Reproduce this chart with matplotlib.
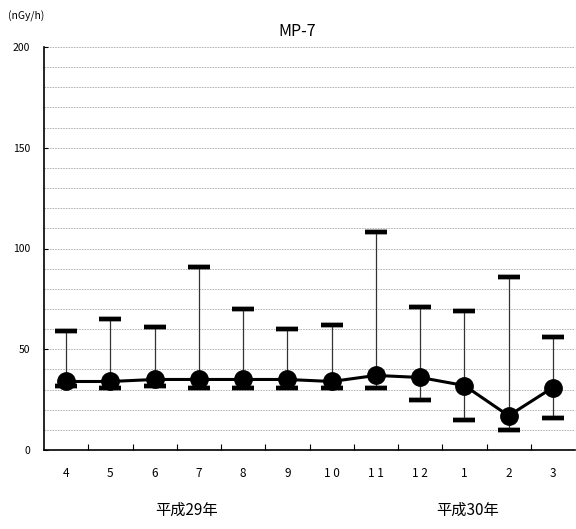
import matplotlib
matplotlib.use('Agg')
import matplotlib.pyplot as plt
from matplotlib.ticker import MultipleLocator, FixedLocator

plt.rcParams['font.family'] = ['Noto Sans CJK JP', 'DejaVu Sans']

months = ['4', '5', '6', '7', '8', '9', '1 0', '1 1', '1 2', '1', '2', '3']
mean_vals = [34, 34, 35, 35, 35, 35, 34, 37, 36, 32, 17, 31]
max_vals = [59, 65, 61, 91, 70, 60, 62, 108, 71, 69, 86, 56]
min_vals = [32, 31, 32, 31, 31, 31, 31, 31, 25, 15, 10, 16]

x = list(range(len(months)))
lower = [m - lo for m, lo in zip(mean_vals, min_vals)]
upper = [hi - m for m, hi in zip(mean_vals, max_vals)]

fig = plt.figure(figsize=(5.76, 5.29), dpi=100)
ax = fig.add_axes([44 / 576, 79 / 529, 531 / 576, 403 / 529])

ax.errorbar(x, mean_vals, yerr=[lower, upper], fmt='none', ecolor='#333333',
            elinewidth=0.9, capsize=8, capthick=3.2, zorder=2)
ax.errorbar(x, mean_vals, yerr=[lower, upper], fmt='none', ecolor='black',
            elinewidth=0, capsize=8, capthick=3.2, zorder=2)
ax.plot(x, mean_vals, color='black', lw=2.2, marker='o', markersize=12.5, zorder=3)

ax.set_xlim(-0.5, len(months) - 0.5)
ax.set_ylim(0, 200)
ax.yaxis.set_major_locator(MultipleLocator(50))
ax.yaxis.set_minor_locator(MultipleLocator(10))
ax.grid(axis='y', which='both', linestyle=(0, (2, 1.2)), color='#aaaaaa', lw=0.6)
ax.set_axisbelow(True)

ax.set_xticks(x)
ax.set_xticklabels(months, fontsize=8.5)
ax.xaxis.set_minor_locator(FixedLocator([i + 0.5 for i in range(len(months) - 1)]))
ax.tick_params(axis='x', which='major', length=0, pad=12)
ax.tick_params(axis='x', which='minor', direction='in', length=4, width=0.8)
ax.tick_params(axis='y', which='major', direction='in', length=3, width=0.8, labelsize=7.5, pad=10)
ax.tick_params(axis='y', which='minor', length=0)

for s in ['top', 'right']:
    ax.spines[s].set_visible(False)
ax.spines['left'].set_linewidth(1.2)
ax.spines['bottom'].set_linewidth(1.2)

fig.text(297 / 576, 1 - 31 / 529, 'MP-7', ha='center', va='center', fontsize=11.5)
fig.text(8 / 576, 1 - 16 / 529, '(nGy/h)', ha='left', va='center', fontsize=7.5)
fig.text(187 / 576, 1 - 510 / 529, '平成29年', ha='center', va='center', fontsize=11)
fig.text(468 / 576, 1 - 510 / 529, '平成30年', ha='center', va='center', fontsize=11)

fig.savefig('out.png', dpi=100)
